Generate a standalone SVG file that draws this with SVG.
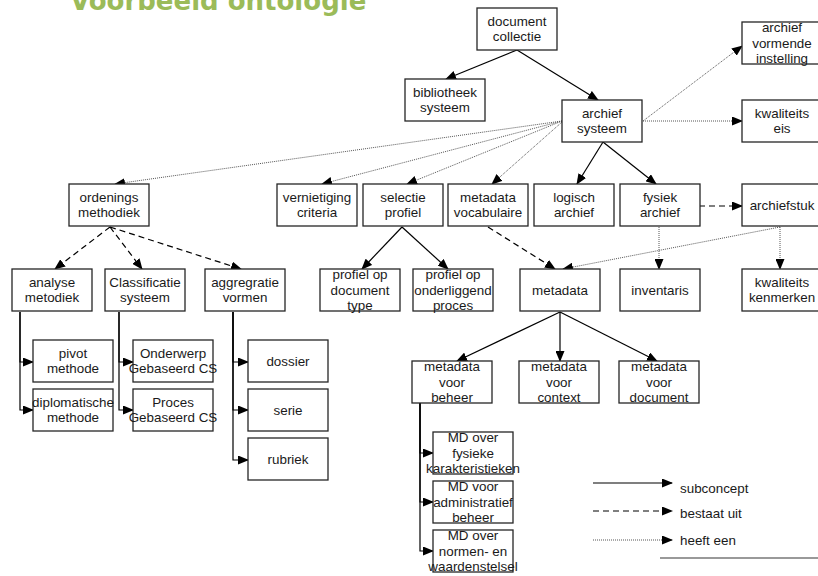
<svg xmlns="http://www.w3.org/2000/svg" width="818" height="576" viewBox="0 0 818 576">
<style>
.box{fill:#fff;stroke:#262626;stroke-width:1.3}
.t{font-family:"Liberation Sans",Arial,sans-serif;font-size:13.4px;fill:#1a1a1a;text-anchor:middle}
.lg{font-family:"Liberation Sans",Arial,sans-serif;font-size:13.4px;fill:#1a1a1a}
.sol{fill:none;stroke:#000;stroke-width:1.2;marker-end:url(#ah)}
.das{fill:none;stroke:#000;stroke-width:1.2;stroke-dasharray:6,4;marker-end:url(#ah)}
.dot{fill:none;stroke:#555;stroke-width:1;stroke-dasharray:1,1;marker-end:url(#ah)}
.title{font-family:"DejaVu Sans",Verdana,sans-serif;font-weight:bold;font-size:26px;fill:#9bbb59}
</style>
<defs>
<marker id="ah" markerUnits="userSpaceOnUse" markerWidth="11" markerHeight="9" refX="10" refY="4.5" orient="auto">
<path d="M0,0 L11,4.5 L0,9 z" fill="#000"/>
</marker>
</defs>
<rect width="818" height="576" fill="#fff"/>
<text class="title" x="70" y="10">Voorbeeld ontologie</text>

<g id="connectors">
<path class="sol" d="M517,50 L446,79"/>
<path class="sol" d="M517,50 L598,100"/>
<path class="sol" d="M603,142 L577,184"/>
<path class="sol" d="M603,142 L656,184"/>
<path class="sol" d="M402,227 L362,269"/>
<path class="sol" d="M402,227 L448,269"/>
<path class="sol" d="M560,312 L457,361"/>
<path class="sol" d="M560,312 L560,361"/>
<path class="sol" d="M560,312 L657,361"/>
<path class="sol" d="M20,312 V362 H33"/>
<path class="sol" d="M20,312 V410 H33"/>
<path class="sol" d="M119,312 V362 H133"/>
<path class="sol" d="M119,312 V410 H133"/>
<path class="sol" d="M233,312 V362 H248"/>
<path class="sol" d="M233,312 V410 H248"/>
<path class="sol" d="M233,312 V460 H248"/>
<path class="sol" d="M420,403 V453 H433"/>
<path class="sol" d="M420,403 V502 H433"/>
<path class="sol" d="M420,403 V551 H433"/>
<path class="das" d="M110,227 L55,269"/>
<path class="das" d="M110,227 L142,269"/>
<path class="das" d="M110,227 L241,269"/>
<path class="das" d="M488,227 L555,269"/>
<path class="das" d="M699,206 L742,206"/>
<path class="dot" d="M643,121 L742,46"/>
<path class="dot" d="M643,121 L742,121"/>
<path class="dot" d="M562,121 L115,184"/>
<path class="dot" d="M562,121 L322,184"/>
<path class="dot" d="M562,121 L407,184"/>
<path class="dot" d="M562,122 L492,184"/>
<path class="dot" d="M780,227 L563,269"/>
<path class="dot" d="M780,227 L780,269"/>
<path class="dot" d="M659,227 L659,269"/>
</g>

<g id="legend">
<path class="sol" d="M593,483 H672"/>
<path class="das" d="M593,511 H672"/>
<path class="dot" d="M593,540 H672"/>
<text class="lg" x="680" y="493">subconcept</text>
<text class="lg" x="680" y="518">bestaat uit</text>
<text class="lg" x="680" y="545">heeft een</text>
<line x1="660" y1="558" x2="818" y2="558" stroke="#999" stroke-width="2"/>
</g>

<g id="document-collectie"><rect class="box" x="477" y="8" width="80" height="42"/><text class="t" x="517" y="26">document</text><text class="t" x="517" y="41">collectie</text></g>
<g id="bibliotheek-systeem"><rect class="box" x="405" y="79" width="80" height="42"/><text class="t" x="445" y="97">bibliotheek</text><text class="t" x="445" y="112">systeem</text></g>
<g id="archief-systeem"><rect class="box" x="562" y="100" width="80" height="42"/><text class="t" x="602" y="118">archief</text><text class="t" x="602" y="133">systeem</text></g>
<g id="archief-vormende-instelling"><rect class="box" x="742" y="22" width="80" height="42"/><text class="t" x="782" y="32">archief</text><text class="t" x="782" y="47.5">vormende</text><text class="t" x="782" y="63">instelling</text></g>
<g id="kwaliteits-eis"><rect class="box" x="742" y="100" width="80" height="42"/><text class="t" x="782" y="118">kwaliteits</text><text class="t" x="782" y="133">eis</text></g>

<g id="ordenings-methodiek"><rect class="box" x="69" y="184" width="80" height="42"/><text class="t" x="109" y="202">ordenings</text><text class="t" x="109" y="217">methodiek</text></g>
<g id="vernietiging-criteria"><rect class="box" x="277" y="184" width="80" height="42"/><text class="t" x="317" y="202">vernietiging</text><text class="t" x="317" y="217">criteria</text></g>
<g id="selectie-profiel"><rect class="box" x="363" y="184" width="80" height="42"/><text class="t" x="403" y="202">selectie</text><text class="t" x="403" y="217">profiel</text></g>
<g id="metadata-vocabulaire"><rect class="box" x="448" y="184" width="80" height="42"/><text class="t" x="488" y="202">metadata</text><text class="t" x="488" y="217">vocabulaire</text></g>
<g id="logisch-archief"><rect class="box" x="534" y="184" width="80" height="42"/><text class="t" x="574" y="202">logisch</text><text class="t" x="574" y="217">archief</text></g>
<g id="fysiek-archief"><rect class="box" x="620" y="184" width="80" height="42"/><text class="t" x="660" y="202">fysiek</text><text class="t" x="660" y="217">archief</text></g>
<g id="archiefstuk"><rect class="box" x="742" y="184" width="80" height="42"/><text class="t" x="782" y="210">archiefstuk</text></g>

<g id="analyse-metodiek"><rect class="box" x="12" y="269" width="80" height="42"/><text class="t" x="52" y="287">analyse</text><text class="t" x="52" y="302">metodiek</text></g>
<g id="classificatie-systeem"><rect class="box" x="105" y="269" width="80" height="42"/><text class="t" x="145" y="287">Classificatie</text><text class="t" x="145" y="302">systeem</text></g>
<g id="aggregratie-vormen"><rect class="box" x="205" y="269" width="80" height="42"/><text class="t" x="245" y="287">aggregratie</text><text class="t" x="245" y="302">vormen</text></g>
<g id="profiel-document-type"><rect class="box" x="320" y="269" width="80" height="42"/><text class="t" x="360" y="279">profiel op</text><text class="t" x="360" y="294.5">document</text><text class="t" x="360" y="310">type</text></g>
<g id="profiel-onderliggend-proces"><rect class="box" x="413" y="269" width="80" height="42"/><text class="t" x="453" y="279">profiel op</text><text class="t" x="453" y="294.5">onderliggend</text><text class="t" x="453" y="310">proces</text></g>
<g id="metadata"><rect class="box" x="520" y="269" width="80" height="42"/><text class="t" x="560" y="295">metadata</text></g>
<g id="inventaris"><rect class="box" x="620" y="269" width="80" height="42"/><text class="t" x="660" y="295">inventaris</text></g>
<g id="kwaliteits-kenmerken"><rect class="box" x="742" y="269" width="80" height="42"/><text class="t" x="782" y="287">kwaliteits</text><text class="t" x="782" y="302">kenmerken</text></g>

<g id="pivot-methode"><rect class="box" x="33" y="340" width="80" height="42"/><text class="t" x="73" y="358">pivot</text><text class="t" x="73" y="373">methode</text></g>
<g id="diplomatische-methode"><rect class="box" x="33" y="389" width="80" height="42"/><text class="t" x="73" y="407">diplomatische</text><text class="t" x="73" y="422">methode</text></g>
<g id="onderwerp-cs"><rect class="box" x="133" y="340" width="80" height="42"/><text class="t" x="173" y="358">Onderwerp</text><text class="t" x="173" y="373">Gebaseerd CS</text></g>
<g id="proces-cs"><rect class="box" x="133" y="389" width="80" height="42"/><text class="t" x="173" y="407">Proces</text><text class="t" x="173" y="422">Gebaseerd CS</text></g>
<g id="dossier"><rect class="box" x="248" y="340" width="80" height="42"/><text class="t" x="288" y="366">dossier</text></g>
<g id="serie"><rect class="box" x="248" y="389" width="80" height="42"/><text class="t" x="288" y="415">serie</text></g>
<g id="rubriek"><rect class="box" x="248" y="438" width="80" height="42"/><text class="t" x="288" y="464">rubriek</text></g>

<g id="metadata-voor-beheer"><rect class="box" x="412" y="361" width="80" height="42"/><text class="t" x="452" y="371">metadata</text><text class="t" x="452" y="386.5">voor</text><text class="t" x="452" y="402">beheer</text></g>
<g id="metadata-voor-context"><rect class="box" x="519" y="361" width="80" height="42"/><text class="t" x="559" y="371">metadata</text><text class="t" x="559" y="386.5">voor</text><text class="t" x="559" y="402">context</text></g>
<g id="metadata-voor-document"><rect class="box" x="619" y="361" width="80" height="42"/><text class="t" x="659" y="371">metadata</text><text class="t" x="659" y="386.5">voor</text><text class="t" x="659" y="402">document</text></g>
<g id="md-fysieke"><rect class="box" x="433" y="432" width="80" height="42"/><text class="t" x="473" y="442">MD over</text><text class="t" x="473" y="457.5">fysieke</text><text class="t" x="473" y="473">karakteristieken</text></g>
<g id="md-administratief"><rect class="box" x="433" y="481" width="80" height="42"/><text class="t" x="473" y="491">MD voor</text><text class="t" x="473" y="506.5">administratief</text><text class="t" x="473" y="522">beheer</text></g>
<g id="md-normen"><rect class="box" x="433" y="530" width="80" height="42"/><text class="t" x="473" y="540">MD over</text><text class="t" x="473" y="555.5">normen- en</text><text class="t" x="473" y="571">waardenstelsel</text></g>
</svg>
